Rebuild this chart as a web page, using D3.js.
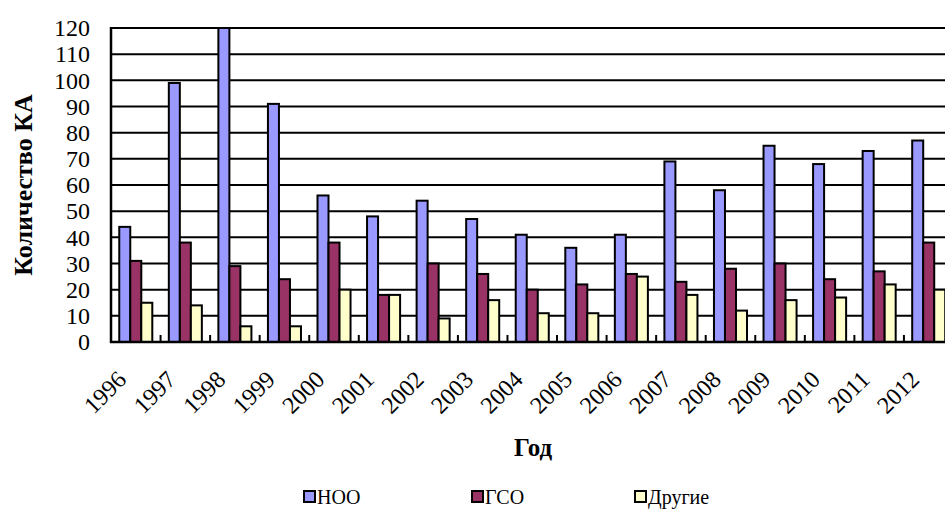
<!DOCTYPE html>
<html>
<head>
<meta charset="utf-8">
<script src="https://cdn.jsdelivr.net/npm/d3@7/dist/d3.min.js"></script>
<style>
  html, body { margin: 0; padding: 0; background: #fff; }
  svg { display: block; }
</style>
</head>
<body>
<svg id="chart" width="945" height="514"></svg>
<script>
// Launches per year by orbit type
const years = ["1996","1997","1998","1999","2000","2001","2002","2003","2004",
               "2005","2006","2007","2008","2009","2010","2011","2012"];
const leo   = [44, 99, 120, 91, 56, 48, 54, 47, 41, 36, 41, 69, 58, 75, 68, 73, 77];
const geo   = [31, 38, 29, 24, 38, 18, 30, 26, 20, 22, 26, 23, 28, 30, 24, 27, 38];
const other = [15, 14, 6, 6, 20, 18, 9, 16, 11, 11, 25, 18, 12, 16, 17, 22, 20];
const seriesNames = ["НОО", "ГСО", "Другие"];
const seriesColors = ["#9999FF", "#993366", "#FFFFCC"];
const yTicks = [0, 10, 20, 30, 40, 50, 60, 70, 80, 90, 100, 110, 120];

const series = [leo, geo, other];
const serif = "Liberation Serif";

const svg = d3.select("#chart")
  .attr("font-family", serif)
  .style("font-family", serif);
const plot = { left: 111, top: 28, right: 953.5, bottom: 342 };

const x = d3.scaleBand().domain(years).range([plot.left, plot.right]).padding(0);
const bw = x.bandwidth();
// gap between groups = 1.5 bar widths
const barW = bw / 4.5;
const inner = d3.scaleBand().domain(d3.range(3))
  .range([0.75 * barW, 0.75 * barW + 3 * barW]).padding(0);

const y = d3.scaleLinear().domain([0, 120]).range([plot.bottom, plot.top]);

// horizontal grid lines
svg.append("g")
  .selectAll("line")
  .data(yTicks.filter(t => t > 0))
  .join("line")
  .attr("x1", plot.left).attr("x2", plot.right)
  .attr("y1", d => y(d)).attr("y2", d => y(d))
  .attr("stroke", "#000").attr("stroke-width", 2);

// bars
const groups = svg.append("g")
  .selectAll("g")
  .data(years)
  .join("g")
  .attr("transform", d => `translate(${x(d)},0)`);

groups.selectAll("rect")
  .data((d, i) => series.map((s, k) => ({ k, v: s[i] })))
  .join("rect")
  .attr("x", d => inner(d.k))
  .attr("width", inner.bandwidth())
  .attr("y", d => y(d.v))
  .attr("height", d => y(0) - y(d.v))
  .attr("fill", d => seriesColors[d.k])
  .attr("stroke", "#000")
  .attr("stroke-width", 2);

// category tick marks, pointing up into the plot
svg.append("g")
  .selectAll("line")
  .data(years.slice(1))
  .join("line")
  .attr("x1", d => x(d)).attr("x2", d => x(d))
  .attr("y1", plot.bottom).attr("y2", plot.bottom - 7)
  .attr("stroke", "#000").attr("stroke-width", 2);

// y axis labels via d3 axis
const yAxis = d3.axisLeft(y).tickValues(yTicks).tickSize(0).tickPadding(21);
const yg = svg.append("g").attr("transform", `translate(${plot.left},0)`).call(yAxis);
yg.attr("font-family", serif).attr("font-size", 24);
yg.select(".domain").remove();
yg.selectAll("text").attr("fill", "#000").style("font-family", serif);

// axis lines
svg.append("line")
  .attr("x1", plot.left).attr("x2", plot.left)
  .attr("y1", plot.top - 1).attr("y2", plot.bottom + 1)
  .attr("stroke", "#000").attr("stroke-width", 2.5);
svg.append("line")
  .attr("x1", plot.left - 1).attr("x2", plot.right)
  .attr("y1", plot.bottom).attr("y2", plot.bottom)
  .attr("stroke", "#000").attr("stroke-width", 2.5);

// x labels, rotated
svg.append("g")
  .selectAll("text")
  .data(years)
  .join("text")
  .attr("transform", d => `translate(${x(d) + bw / 2 - 8},${plot.bottom + 39}) rotate(-45)`)
  .attr("text-anchor", "end")
  .attr("font-size", 24)
  .style("font-family", serif)
  .text(d => d);

// axis titles
svg.append("text")
  .attr("transform", `translate(32,${(plot.top + plot.bottom) / 2}) rotate(-90)`)
  .attr("text-anchor", "middle")
  .attr("font-size", 26)
  .attr("font-weight", "bold")
  .style("font-family", serif)
  .text("Количество КА");

svg.append("text")
  .attr("x", 533).attr("y", 456)
  .attr("text-anchor", "middle")
  .attr("font-size", 25)
  .attr("font-weight", "bold")
  .style("font-family", serif)
  .text("Год");

// legend
const legendX = [304, 472, 635];
const lg = svg.append("g")
  .selectAll("g")
  .data(seriesNames)
  .join("g")
  .attr("transform", (d, i) => `translate(${legendX[i]},491)`);
lg.append("rect")
  .attr("x", 0).attr("y", 0).attr("width", 11).attr("height", 11)
  .attr("fill", (d, i) => seriesColors[i])
  .attr("stroke", "#000").attr("stroke-width", 2);
lg.append("text")
  .attr("x", 13).attr("y", 12.5)
  .attr("font-size", 20)
  .style("font-family", serif)
  .text(d => d);
</script>
</body>
</html>
